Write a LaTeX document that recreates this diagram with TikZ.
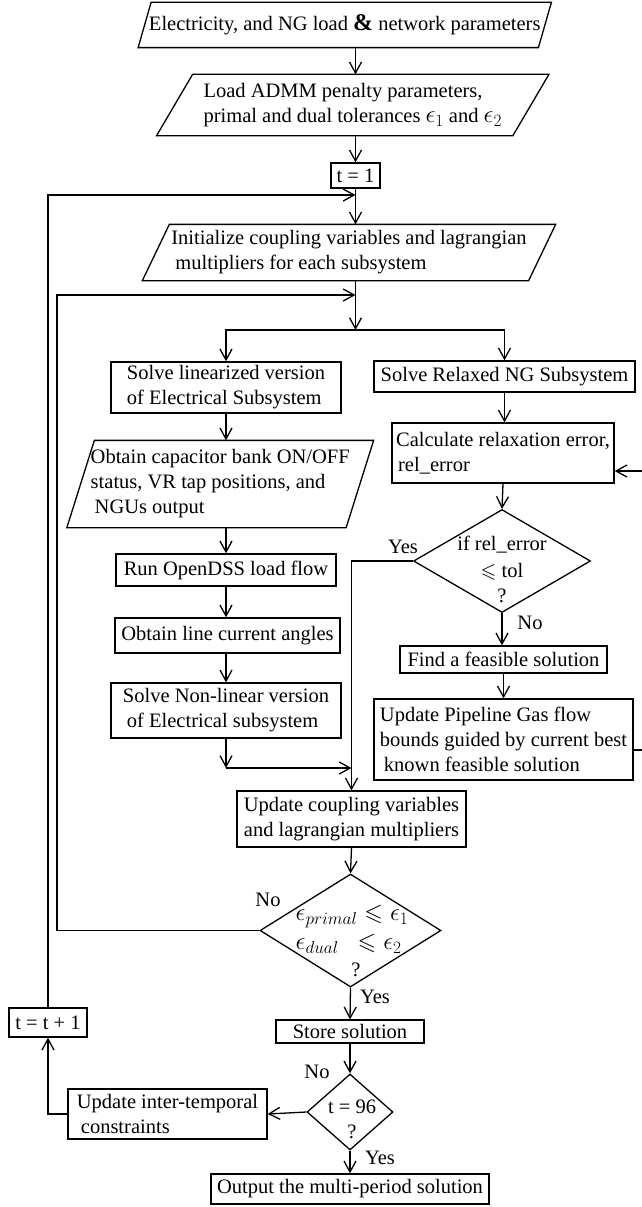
\documentclass[tikz,border=0pt]{standalone}
\usepackage{amssymb}
\usepackage{fontspec}
\setmainfont{Liberation Serif}
\usetikzlibrary{arrows.meta,shapes.geometric,calc}
\newcommand\paral[2]{\draw ([xshift=#2pt]#1.north west) -- ([xshift=#2pt]#1.north east) -- ([xshift=-#2pt]#1.south east) -- ([xshift=-#2pt]#1.south west) -- cycle;}
\newcommand\bigmath[1]{{\fontsize{24}{25}\selectfont$#1$}}
\begin{document}
\begin{tikzpicture}[x=1pt,y=-1pt,line width=1.3pt,
  every node/.style={font=\fontsize{20.5}{25}\selectfont},
  bx/.style 2 args={draw,rectangle,inner sep=0pt,minimum width=#1,minimum height=#2},
  pnode/.style 2 args={inner sep=0pt,minimum width=#1,minimum height=#2},
  dia/.style 2 args={draw,diamond,inner sep=0pt,minimum width=#1,minimum height=#2},
  arr/.style={-{Straight Barb[length=11pt,width=12pt]}}]
\useasboundingbox (0,0) rectangle (642,1207);

% nodes
\node[pnode={399}{44}] (p1) at (344.75,25) {Electricity, and NG load {\fontsize{24}{25}\selectfont\bfseries\&} network parameters};
\paral{p1}{6.5}
\node[pnode={355}{60},align=left] (p2) at (352.75,105) {Load ADMM penalty parameters,\\primal and dual tolerances \bigmath{\epsilon_1} and \bigmath{\epsilon_2}};
\paral{p2}{18}
\node[bx={49}{25}] (t1) at (355.5,175.5) {t = 1};
\node[pnode={385}{55},align=left] (p3) at (349,252.5) {Initialize coupling variables and lagrangian\\\hspace*{4pt}multipliers for each subsystem};
\paral{p3}{13.5}

\coordinate (j1) at (355.5,195);
\coordinate (j2) at (355.5,295);
\coordinate (l2) at (57,295);
\coordinate (br) at (355.5,330);

\node[bx={230}{51},align=left] (lin) at (226,387.5) {Solve linearized version\\of Electrical Subsystem};
\node[bx={261}{31}] (ng) at (504.5,376.5) {Solve Relaxed NG Subsystem};
\node[bx={222}{60},align=left] (calc) at (503,453) {Calculate relaxation error,\\\hspace*{2pt}rel\_error};
\node[pnode={278}{86},align=left] (p4) at (220.25,484) {Obtain capacitor bank ON/OFF\\status, VR tap positions, and\\\hspace*{4pt}NGUs output};
\paral{p4}{13.75}
\node[dia={177}{103}] (d1) at (502,561) {};
\node[align=center] (d1t) at (502,569) {if rel\_error\\[2pt]$\leqslant$ tol\\?};
\node[bx={220}{32}] (run) at (226,570) {Run OpenDSS load flow};
\node[bx={225}{35}] (ang) at (227.5,635.5) {Obtain line current angles};
\node[bx={230}{55},align=left] (nl) at (226,710.5) {Solve Non-linear version\\\hspace*{4pt}of Electrical subsystem};
\node[bx={207}{27}] (feas) at (503.5,659.5) {Find a feasible solution};
\node[bx={259}{81},align=left] (pipe) at (503.5,739.5) {Update Pipeline Gas flow\\bounds guided by current best\\\hspace*{4pt}known feasible solution};
\coordinate (j4) at (226,768);
\coordinate (j5) at (351.5,768);
\node[bx={229}{56},align=left] (upd) at (351.5,819) {Update coupling variables\\and lagrangian multipliers};
\node[dia={181}{113}] (d2) at (350.5,930.5) {};
\node[align=left] (d2t) at (352,929) {\bigmath{\epsilon_{primal}\leqslant\epsilon_1}\\[4pt]\bigmath{\epsilon_{dual}\ \ \leqslant\epsilon_2}};
\node (d2q) at (356,970) {?};
\node[bx={148}{23}] (store) at (350,1031.5) {Store solution};
\node[dia={86}{76}] (d3) at (350,1112) {};
\node[align=center] (d3t) at (352,1119) {t = 96\\?};
\node[bx={199}{50},align=left] (inter) at (167.5,1114) {Update inter-temporal\\\hspace*{4pt}constraints};
\node[bx={78}{29}] (tt1) at (48,1022.5) {t = t + 1};
\node[bx={278}{30}] (out) at (350,1189) {Output the multi-period solution};

\coordinate (r1) at (650,750);
\coordinate (r2) at (650,471);

% labels
\node (y1) at (403,547) {Yes};
\node (n1) at (530,623) {No};
\node (n2) at (268,900) {No};
\node (y2) at (375,997) {Yes};
\node (n3) at (317,1072) {No};
\node (y3) at (380,1158) {Yes};

% connectors
\draw[arr] (p1.south -| t1) -- (p2.north -| t1);
\draw[arr] (p2.south -| t1) -- (t1.north);
\draw (t1.south) -- (j1);
\draw[arr] (j1) -- (p3.north -| t1);
\draw[arr] (tt1.north) |- (j1);
\draw (p3.south -| t1) -- (j2);
\draw[arr] (d2.west) -| (l2) -- (j2);
\draw[arr] (j2) -- (br);
\draw[arr] (br) -| (lin.north);
\draw[arr] (br) -| (ng.north);
\draw[arr] (lin.south) -- (lin.south |- p4.north);
\draw[arr] (lin.south |- p4.south) -- (run.north -| lin.south);
\draw[arr] (run.south -| lin.south) -- (ang.north -| lin.south);
\draw[arr] (ang.south -| lin.south) -- (nl.north -| lin.south);
\draw[arr] (nl.south) -- (j4);
\draw[arr] (j4) -- (j5);
\draw[arr] (ng.south) -- (calc.north -| ng.south);
\draw[arr] (calc.south) -- (d1.north);
\draw[arr] (d1.south) -- (feas.north -| d1.south);
\draw[arr] (feas.south) -- (pipe.north);
\draw[arr] (r1 -| pipe.east) -- (r1) -- (r2) -- (r2 -| calc.east);
\draw[arr] (d1.west) -| (upd.north);
\draw[arr] (upd.south) -- (d2.north);
\draw[arr] (d2.south) -- (store.north);
\draw[arr] (store.south) -- (d3.north);
\draw[arr] (d3.west) -- (inter.east);
\draw[arr] (inter.west) -| (tt1.south);
\draw[arr] (d3.south) -- (out.north);
\end{tikzpicture}
\end{document}
